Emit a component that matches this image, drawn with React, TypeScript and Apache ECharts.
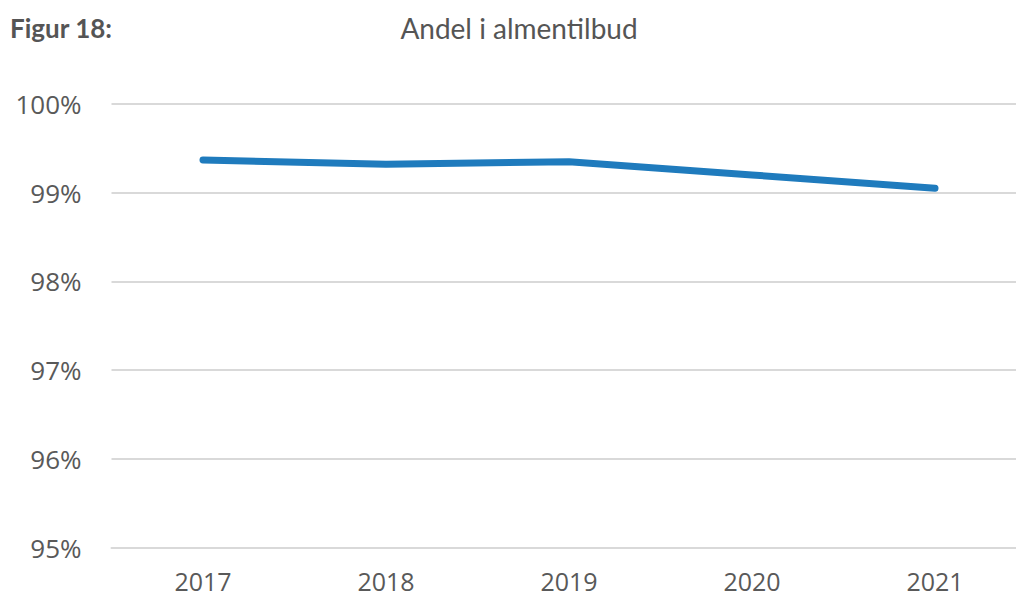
import React, { useEffect, useRef } from "react";
import * as echarts from "echarts";

const years = ["2017", "2018", "2019", "2020", "2021"];
const shareValues = [99.37, 99.32, 99.35, 99.2, 99.05];
const yTicks = { min: 95, max: 100, interval: 1 };
const figureLabel = "Figur 18:";
const chartTitle = "Andel i almentilbud";

export default function App() {
  const ref = useRef<HTMLDivElement>(null);
  useEffect(() => {
    document.body.style.margin = "0";
    const chart = echarts.init(ref.current!, null, { renderer: "svg" });
    const font = "'Open Sans', sans-serif";
    chart.setOption({
      animation: false,
      backgroundColor: "#ffffff",
      graphic: [
        {
          type: "text",
          x: 10,
          y: 28,
          style: {
            text: figureLabel,
            font: "bold 26px Lato, sans-serif",
            fill: "#555555",
            verticalAlign: "middle",
          },
        },
        {
          type: "text",
          x: 519,
          y: 28,
          style: {
            text: chartTitle,
            font: "28px Lato, sans-serif",
            fill: "#555555",
            align: "center",
            verticalAlign: "middle",
          },
        },
      ],
      grid: { left: 111.5, top: 104, width: 915, height: 443.7, containLabel: false },
      xAxis: {
        type: "category",
        data: years,
        boundaryGap: true,
        axisLine: { show: true, lineStyle: { color: "#d9d9d9", width: 2 } },
        axisTick: { show: false },
        axisLabel: { color: "#595959", fontSize: 25, fontFamily: font, margin: 21 },
      },
      yAxis: {
        type: "value",
        min: yTicks.min,
        max: yTicks.max,
        interval: yTicks.interval,
        axisLine: { show: false },
        axisTick: { show: false },
        splitLine: { lineStyle: { color: "#d9d9d9", width: 2 } },
        axisLabel: { color: "#595959", fontSize: 26, fontFamily: font, margin: 30, formatter: "{value}%" },
      },
      series: [
        {
          type: "line",
          data: shareValues,
          showSymbol: false,
          symbol: "none",
          lineStyle: { color: "#1f7bbd", width: 7, cap: "round", join: "round" },
        },
      ],
    });
    return () => chart.dispose();
  }, []);
  return (
    <div style={{ width: 1016, height: 600, overflow: "hidden", position: "relative" }}>
      <div ref={ref} style={{ width: 1040, height: 600 }} />
    </div>
  );
}
